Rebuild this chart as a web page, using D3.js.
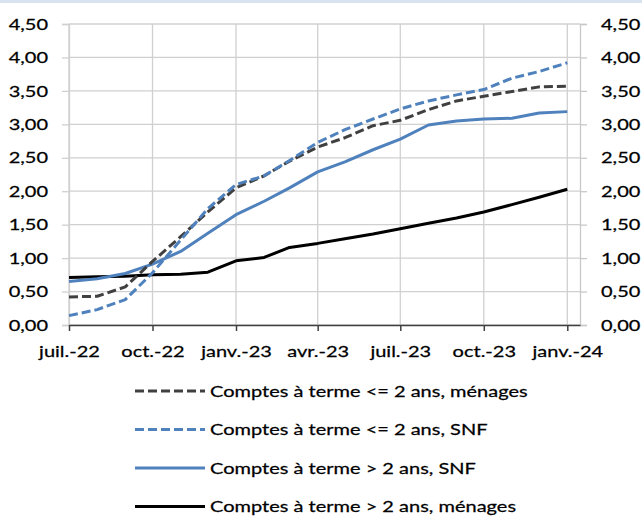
<!DOCTYPE html>
<html>
<head>
<meta charset="utf-8">
<script src="https://cdn.jsdelivr.net/npm/d3@7"></script>
<style>
  html, body { margin: 0; padding: 0; background: #fff; }
  svg { display: block; }
  text { font-family: Lato, "Open Sans", sans-serif; fill: #000; stroke: #000; stroke-width: 0.25px; }
</style>
</head>
<body>
<svg id="chart" width="642" height="525"></svg>
<script>
// ---- data ----
const months = ["2022-07","2022-08","2022-09","2022-10","2022-11","2022-12",
                "2023-01","2023-02","2023-03","2023-04","2023-05","2023-06",
                "2023-07","2023-08","2023-09","2023-10","2023-11","2023-12","2024-01"];
const seriesNames = [
  "Comptes à terme <= 2 ans, ménages",
  "Comptes à terme <= 2 ans, SNF",
  "Comptes à terme > 2 ans, SNF",
  "Comptes à terme > 2 ans, ménages"
];
const menagesCourt = [0.42,0.43,0.57,0.95,1.32,1.69,2.05,2.23,2.45,2.66,2.80,2.98,3.06,3.22,3.35,3.42,3.49,3.56,3.57];
const snfCourt     = [0.14,0.23,0.38,0.78,1.27,1.74,2.10,2.23,2.46,2.73,2.92,3.08,3.23,3.35,3.44,3.52,3.69,3.79,3.92];
const snfLong      = [0.65,0.69,0.77,0.91,1.10,1.37,1.65,1.85,2.05,2.29,2.44,2.62,2.78,2.99,3.05,3.08,3.09,3.17,3.19];
const menagesLong  = [0.71,0.72,0.73,0.75,0.76,0.79,0.96,1.01,1.16,1.22,1.29,1.36,1.44,1.52,1.60,1.69,1.80,1.91,2.03];
const yTicks = [0,0.5,1,1.5,2,2.5,3,3.5,4,4.5];
const monthLabels = ["janv.","févr.","mars","avr.","mai","juin","juil.","août","sept.","oct.","nov.","déc."];

// ---- styles ----
const styles = [
  {color:"#404040", dash:"9,4"},
  {color:"#4f81bd", dash:"9,4"},
  {color:"#4f81bd", dash:null},
  {color:"#000000", dash:null}
];
const allSeries = [menagesCourt, snfCourt, snfLong, menagesLong];
const drawOrder = [3,2,0,1];

const svg = d3.select("#chart");
const parse = d3.timeParse("%Y-%m");
const dates = months.map(parse);

const L = 69, R = 580, T = 24, B = 325;
const SX = 1.25; // horizontal text stretch

const x = d3.scaleTime()
  .domain([parse("2022-07"), new Date(2024,0,15)])
  .range([L, R]);
const y = d3.scaleLinear().domain([0,4.5]).range([B, T]);

const fr = d3.formatLocale({decimal:",", thousands:" ", grouping:[3], currency:["","€"]});
const yFmt = fr.format(".2f");
const xFmt = d => monthLabels[d.getMonth()] + "-" + d3.timeFormat("%y")(d);

// top band
svg.append("rect").attr("x",0).attr("y",0).attr("width",642).attr("height",3).attr("fill","#d9e3ef");

// horizontal gridlines
svg.append("g").selectAll("line").data(yTicks).join("line")
  .attr("x1", L).attr("x2", R)
  .attr("y1", d => y(d)).attr("y2", d => y(d))
  .attr("stroke", "#d0d0d0").attr("stroke-width", 1.3);

const xTickDates = d3.timeMonth.every(3).range(parse("2022-07"), new Date(2024,0,2));
// vertical gridlines
svg.append("g").selectAll("line").data(xTickDates).join("line")
  .attr("x1", d => x(d)).attr("x2", d => x(d))
  .attr("y1", T).attr("y2", B)
  .attr("stroke", "#d0d0d0").attr("stroke-width", 1.3);

// left axis
const gL = svg.append("g").attr("transform", `translate(${L},0)`)
  .call(d3.axisLeft(y).tickValues(yTicks).tickFormat(yFmt).tickSize(7).tickPadding(0));
gL.select(".domain").attr("stroke", "#d0d0d0").attr("stroke-width",1.3);
gL.selectAll(".tick line").attr("stroke", "#d0d0d0").attr("stroke-width",1.3);
gL.selectAll(".tick text").attr("font-size", 16).attr("x", 0)
  .attr("transform", `translate(-21,0) scale(${SX},1)`).attr("fill","#000");

// right axis
const gR = svg.append("g").attr("transform", `translate(${R},0)`)
  .call(d3.axisRight(y).tickValues(yTicks).tickFormat(yFmt).tickSize(7).tickPadding(0));
gR.select(".domain").attr("stroke", "#c8c8c8").attr("stroke-width",1.3);
gR.selectAll(".tick line").attr("stroke", "#c8c8c8").attr("stroke-width",1.3);
gR.selectAll(".tick text").attr("font-size", 16).attr("x", 0)
  .attr("transform", `translate(21,0) scale(${SX},1)`).attr("fill","#000");

// bottom axis
const gB = svg.append("g").attr("transform", `translate(0,${B})`)
  .call(d3.axisBottom(x).tickValues(xTickDates).tickFormat(xFmt).tickSize(6).tickPadding(0).tickSizeOuter(0));
gB.select(".domain").attr("stroke", "#404040").attr("stroke-width",1.5);
gB.selectAll(".tick line").attr("stroke", "#404040").attr("stroke-width",1.5);
gB.selectAll(".tick text").attr("font-size", 16).attr("y", 0).attr("dy", "0.71em")
  .attr("transform", `translate(0,21) scale(${SX},1)`).attr("fill","#000");

// lines
const line = d3.line().x((d,i) => x(dates[i])).y(d => y(d));
drawOrder.forEach(k => {
  svg.append("path").datum(allSeries[k])
    .attr("d", line)
    .attr("fill", "none")
    .attr("stroke", styles[k].color)
    .attr("stroke-width", 3)
    .attr("stroke-dasharray", styles[k].dash)
    .attr("stroke-linejoin", "round");
});

// legend
const legY0 = 391, legDy = 38.5, legX1 = 135, legX2 = 205, legTX = 210;
const leg = svg.append("g");
seriesNames.forEach((name, k) => {
  const yy = legY0 + k*legDy;
  leg.append("line").attr("x1", legX1).attr("x2", legX2).attr("y1", yy).attr("y2", yy)
    .attr("stroke", styles[k].color).attr("stroke-width", 3)
    .attr("stroke-dasharray", styles[k].dash);
  leg.append("text").attr("x", 0).attr("y", 0).attr("dy","0.35em")
    .attr("transform", `translate(${legTX},${yy}) scale(${SX},1)`)
    .attr("font-size", 16).text(name);
});
</script>
</body>
</html>
